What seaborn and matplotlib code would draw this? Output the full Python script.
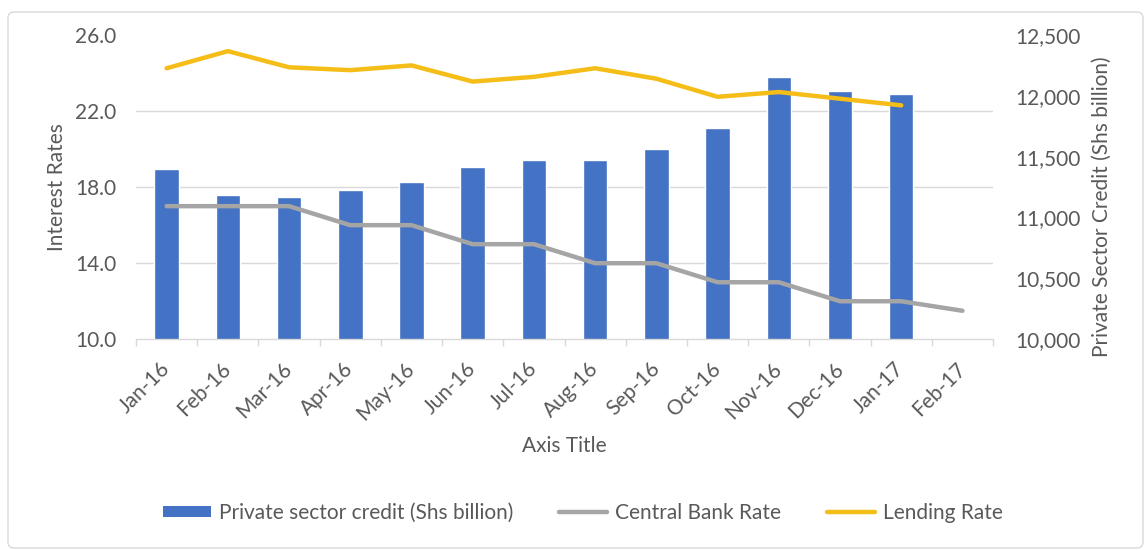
import matplotlib
matplotlib.use("Agg")
import numpy as np
import pandas as pd
import seaborn as sns
import matplotlib.pyplot as plt
from matplotlib.patches import FancyBboxPatch, Patch
from matplotlib.lines import Line2D
from matplotlib.transforms import IdentityTransform
from matplotlib.ticker import FuncFormatter, FormatStrFormatter

# ---- data -------------------------------------------------------------
months = ["Jan-16", "Feb-16", "Mar-16", "Apr-16", "May-16", "Jun-16", "Jul-16",
          "Aug-16", "Sep-16", "Oct-16", "Nov-16", "Dec-16", "Jan-17", "Feb-17"]
private_credit = [11400, 11185, 11170, 11230, 11290, 11415, 11470,
                  11470, 11560, 11735, 12155, 12040, 12015, np.nan]
central_bank_rate = [17.0, 17.0, 17.0, 16.0, 16.0, 15.0, 15.0,
                     14.0, 14.0, 13.0, 13.0, 12.0, 12.0, 11.5]
lending_rate = [24.25, 25.15, 24.3, 24.15, 24.4, 23.55, 23.8,
                24.25, 23.7, 22.75, 23.0, 22.65, 22.3, np.nan]
rate_ticks = [10.0, 14.0, 18.0, 22.0, 26.0]
credit_ticks = [10000, 10500, 11000, 11500, 12000, 12500]

BLUE = "#4472C4"
GRAY = "#A5A5A5"
GOLD = "#F5BD17"
TEXT = "#595959"
GRID = "#D9D9D9"
FS = 15

sns.set_style("white")
plt.rcParams["font.family"] = ["Lato", "DejaVu Sans"]

df = pd.DataFrame({"month": months, "credit": private_credit,
                   "cbr": central_bank_rate, "lending": lending_rate})

fig = plt.figure(figsize=(11.45, 5.5), dpi=100)
ax = fig.add_axes([0.1188, 0.3831, 0.7485, 0.5533])

# bars: private sector credit (right-hand scale)
sns.barplot(data=df, x="month", y="credit", order=months, color=BLUE,
            saturation=1, width=0.4, ax=ax)
ax.set_xlim(-0.5, len(months) - 0.5)
ax.set_ylim(credit_ticks[0], credit_ticks[-1])
pos = np.asarray(ax.get_xticks(), dtype=float)

# second axes on top for the interest-rate lines
ax2 = ax.twinx()
ax2.patch.set_visible(False)

ax.yaxis.tick_right()
ax.yaxis.set_label_position("right")
ax.set_yticks(credit_ticks)
ax.yaxis.set_major_formatter(FuncFormatter(lambda v, p: f"{v:,.0f}"))
ax.tick_params(axis="y", which="major", length=0, pad=16, labelsize=FS,
               labelcolor=TEXT)

# horizontal gridlines follow the interest-rate scale
ax.set_yticks(np.linspace(credit_ticks[0], credit_ticks[-1], len(rate_ticks)),
              minor=True)
ax.tick_params(axis="y", which="minor", length=0)
ax.grid(False)
ax.grid(which="minor", axis="y", color=GRID, lw=1)
ax.set_axisbelow(True)

ax.set_xticks(pos)
ax.set_xticklabels(months, rotation=45, ha="right", va="center",
                   rotation_mode="anchor")
ax.set_xticks(np.append(pos - 0.5, pos[-1] + 0.5), minor=True)
ax.tick_params(axis="x", which="major", length=0, pad=19, labelsize=FS,
               labelcolor=TEXT)
ax.tick_params(axis="x", which="minor", length=5, color=GRID, width=1,
               bottom=True)

for side in ["top", "left", "right"]:
    ax.spines[side].set_visible(False)
ax.spines["bottom"].set_color(GRID)
ax.spines["bottom"].set_linewidth(1)

ax.set_xlabel("Axis Title", fontsize=FS, color=TEXT)
ax.xaxis.set_label_coords(0.5, (339.3 - 436) / 304.3)
ax.set_ylabel("Private Sector Credit (Shs billion)", fontsize=FS,
              color=TEXT, rotation=90)
ax.yaxis.set_label_coords((1092 - 136) / (993 - 136), (339.3 - 207) / 304.3)

# lines: interest rates (left-hand scale)
sns.lineplot(x=pos, y=central_bank_rate, ax=ax2, color=GRAY, lw=3.2,
             solid_capstyle="round", solid_joinstyle="round")
sns.lineplot(x=pos, y=lending_rate, ax=ax2, color=GOLD, lw=3.2,
             solid_capstyle="round", solid_joinstyle="round")
ax2.set_ylim(rate_ticks[0], rate_ticks[-1])
ax2.yaxis.tick_left()
ax2.yaxis.set_label_position("left")
ax2.set_yticks(rate_ticks)
ax2.yaxis.set_major_formatter(FormatStrFormatter("%.1f"))
ax2.tick_params(axis="y", length=0, pad=14, labelsize=FS, labelcolor=TEXT)
ax2.set_ylabel("Interest Rates", fontsize=FS, color=TEXT)
ax2.yaxis.set_label_coords(-(136 - 67) / (993 - 136), 0.5)
ax2.grid(False)
for side in ax2.spines:
    ax2.spines[side].set_visible(False)

# legend
handles = [
    Patch(facecolor=BLUE, edgecolor="none"),
    Line2D([], [], color=GRAY, lw=3.2),
    Line2D([], [], color=GOLD, lw=3.2),
]
labels = ["Private sector credit (Shs billion)", "Central Bank Rate",
          "Lending Rate"]
fig.legend(handles, labels, loc="center", bbox_to_anchor=(583 / 1145, 1 - 513 / 550),
           ncol=3, frameon=False, fontsize=FS, labelcolor=TEXT,
           handlelength=2.3, handleheight=0.48, handletextpad=0.4,
           columnspacing=2.2)

# chart-area border
fig.patches.append(FancyBboxPatch((8, 2), 1135, 536,
                                  boxstyle="round,pad=0,rounding_size=6",
                                  transform=IdentityTransform(),
                                  facecolor="none", edgecolor=GRID, lw=1,
                                  figure=fig))

fig.savefig("out.png", dpi=100)
